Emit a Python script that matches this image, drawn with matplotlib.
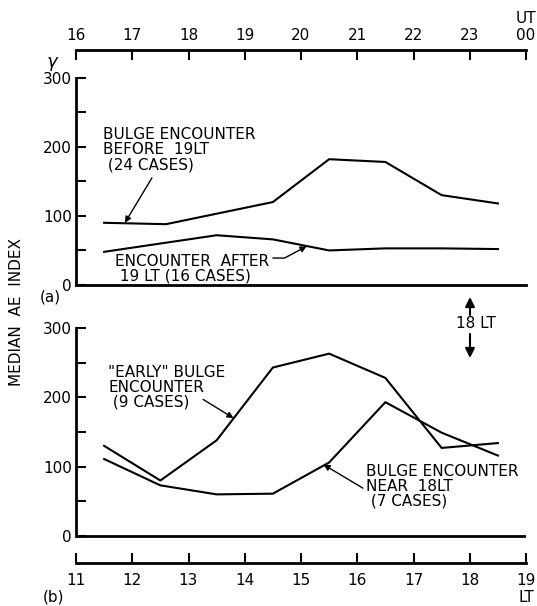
import matplotlib.pyplot as plt
from matplotlib.ticker import FixedLocator

plt.rcParams['font.family'] = 'DejaVu Sans'

# (a) median AE vs UT
ut_before = [16.5, 17.6, 19.5, 20.5, 21.5, 22.5, 23.5]
ae_before = [90, 88, 120, 182, 178, 130, 118]
ut_after = [16.5, 18.5, 19.5, 20.5, 21.5, 22.5, 23.5]
ae_after = [48, 72, 66, 50, 53, 53, 52]
ut_ticks = [16, 17, 18, 19, 20, 21, 22, 23, 24]
ut_labels = ['16', '17', '18', '19', '20', '21', '22', '23', 'UT\n00']

# (b) median AE vs LT
lt_hours = [11.5, 12.5, 13.5, 14.5, 15.5, 16.5, 17.5, 18.5]
ae_early = [130, 80, 138, 243, 263, 228, 127, 134]
ae_near = [111, 73, 60, 61, 106, 193, 149, 116]
lt_ticks = [11, 12, 13, 14, 15, 16, 17, 18, 19]
lt_labels = ['11', '12', '13', '14', '15', '16', '17', '18', '19\nLT']

ae_ticks = [0, 100, 200, 300]
ae_minor = [50, 150, 250]

W, H = 537, 606


def frac(x, y):
    return x / W, 1 - y / H


fig = plt.figure(figsize=(W / 100, H / 100), dpi=100)

arrow = dict(arrowstyle='-|>', color='k', lw=1, mutation_scale=9,
             shrinkA=0, shrinkB=0)
txt = dict(fontsize=11, ha='left', va='top', linespacing=1.0)

# panel (a)
ax_a = fig.add_axes([76 / W, 1 - 285 / H, 450 / W, 235 / H])
ax_a.plot(ut_before, ae_before, color='k', lw=1.5)
ax_a.plot(ut_after, ae_after, color='k', lw=1.5)
ax_a.set_xlim(16, 24)
ax_a.set_ylim(0, 340)
ax_a.xaxis.tick_top()
ax_a.set_xticks(ut_ticks, ut_labels)
ax_a.set_yticks(ae_ticks)
ax_a.yaxis.set_minor_locator(FixedLocator(ae_minor))
ax_a.spines['right'].set_visible(False)
ax_a.spines['left'].set_bounds(0, 300)

ax_a.text(16.48, 228, 'BULGE ENCOUNTER\nBEFORE  19LT\n (24 CASES)', **txt)
ax_a.annotate('', xy=(16.87, 90), xytext=(17.35, 155), arrowprops=arrow)
ax_a.text(16.69, 45, 'ENCOUNTER  AFTER\n 19 LT (16 CASES)', **txt)
ax_a.annotate('', xy=(20.1, 56), xytext=(19.5, 39),
              arrowprops=dict(arrow, connectionstyle='angle,angleA=0,angleB=28,rad=0'))

# panel (b)
ax_b = fig.add_axes([76 / W, 1 - 563 / H, 450 / W, 235 / H])
ax_b.plot(lt_hours, ae_early, color='k', lw=1.5)
ax_b.plot(lt_hours, ae_near, color='k', lw=1.5)
ax_b.axhline(0, color='k', lw=2)
ax_b.set_xlim(11, 19)
ax_b.set_ylim(-39, 300)
ax_b.set_xticks(lt_ticks, lt_labels)
ax_b.set_yticks(ae_ticks)
ax_b.yaxis.set_minor_locator(FixedLocator(ae_minor))
ax_b.spines['right'].set_visible(False)
ax_b.spines['top'].set_visible(False)
ax_b.spines['left'].set_bounds(0, 300)

ax_b.text(11.57, 247, '"EARLY" BULGE\nENCOUNTER\n (9 CASES)', **txt)
ax_b.annotate('', xy=(13.8, 170), xytext=(13.26, 197), arrowprops=arrow)
ax_b.text(16.16, 104, 'BULGE ENCOUNTER\nNEAR  18LT\n (7 CASES)', **txt)
ax_b.annotate('', xy=(15.4, 103), xytext=(16.1, 69), arrowprops=arrow)

for ax in (ax_a, ax_b):
    for s in ax.spines.values():
        s.set_linewidth(2)
    ax.tick_params(axis='both', which='both', direction='in', length=7,
                   width=1.5, labelsize=11)
    ax.tick_params(axis='y', pad=3)
ax_a.tick_params(axis='x', pad=5)
ax_b.tick_params(axis='x', pad=7)

# figure labels
fig.text(*frac(17, 312), 'MEDIAN  AE  INDEX', rotation=90, ha='center',
         va='center', fontsize=11)
fig.text(*frac(50, 297), '(a)', ha='center', va='center', fontsize=11)
fig.text(*frac(53, 597), '(b)', ha='center', va='center', fontsize=11)
fig.text(*frac(52, 62), 'γ', ha='center', va='center', fontsize=13,
         style='italic')
fig.text(*frac(476, 324), '18 LT', ha='center', va='center', fontsize=11)
big = dict(arrowstyle='-|>', color='k', lw=1.5, mutation_scale=14,
           shrinkA=0, shrinkB=0)
fig.add_artist(plt.Annotation('', xy=frac(470, 297), xytext=frac(470, 315),
                              xycoords='figure fraction', arrowprops=big))
fig.add_artist(plt.Annotation('', xy=frac(470, 358), xytext=frac(470, 334),
                              xycoords='figure fraction', arrowprops=big))

fig.savefig('out.png', dpi=100)
